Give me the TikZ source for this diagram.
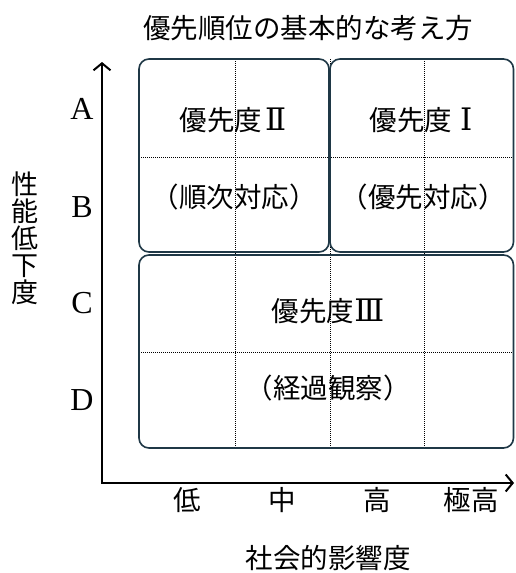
\documentclass[tikz,border=0pt]{standalone}
\usepackage{fontspec}
\setmainfont{Liberation Serif}
\newfontfamily\cjk{Noto Sans CJK JP}
\newfontfamily\romfont{DejaVu Serif}
\usetikzlibrary{arrows.meta}
\definecolor{boxline}{RGB}{31,56,70}
\newcommand\romnum[1]{{\romfont\fontsize{31}{31}\selectfont #1}}
\tikzset{
  pbox/.style={draw=boxline, line width=1.6pt, rounded corners=10pt, fill=none},
  grid/.style={black, line width=0.7pt, dash pattern=on 1pt off 1pt},
  axisline/.style={black, line width=2.4pt, line join=miter,
    {Straight Barb[length=7pt,width=17pt,line width=2pt]}-{Straight Barb[length=7pt,width=17pt,line width=2pt]}},
  jtext/.style={font=\cjk\fontsize{27.5}{30}\selectfont, inner sep=0pt},
  ltext/.style={font=\fontsize{32}{34}\selectfont, inner sep=0pt},
}
\begin{document}
\begin{tikzpicture}[x=1pt,y=-1pt]
\fill[white] (0,0) rectangle (515,573);
\useasboundingbox (0,0) rectangle (515,573);
% grid
\foreach \gx in {235,330,424} \draw[grid] (\gx,59) -- (\gx,449);
\foreach \gy in {157,352} \draw[grid] (139,\gy) -- (514,\gy);
% boxes
\draw[pbox] (139,59) rectangle (329,252);
\draw[pbox] (330,59) rectangle (513.5,252);
\draw[pbox] (139,255) rectangle (513.5,448);
% box texts
\node[jtext] (p2a) at (233,120) {優先度\kern3pt\romnum{Ⅱ}};
\node[jtext] (p2b) at (234,197) {（順次対応）};
\node[jtext] (p1a) at (421,120) {優先度\kern8pt\romnum{Ⅰ}};
\node[jtext] (p1b) at (423,197) {（優先対応）};
\node[jtext] (p3a) at (328,311) {優先度\romnum{Ⅲ}};
\node[jtext] (p3b) at (328,388) {（経過観察）};
% axes
\coordinate (ytip) at (102,62);
\coordinate (xtip) at (514,483);
\draw[axisline] (ytip) |- (xtip);
% labels
\node[jtext] (title) at (308,28) {優先順位の基本的な考え方};
\node[jtext, align=center, font=\cjk\fontsize{27}{27}\selectfont] (ylab) at (25,238) {性\\能\\低\\下\\度};
\node[ltext] (la) at (82,109) {A};
\node[ltext] (lb) at (82,207) {B};
\node[ltext] (lc) at (82,303) {C};
\node[ltext] (ld) at (82,400) {D};
\node[jtext] (x1) at (187,500) {低};
\node[jtext] (x2) at (282,500) {中};
\node[jtext] (x3) at (377,500) {高};
\node[jtext] (x4) at (471,500) {極高};
\node[jtext] (xlab) at (328,558) {社会的影響度};
\end{tikzpicture}
\end{document}
